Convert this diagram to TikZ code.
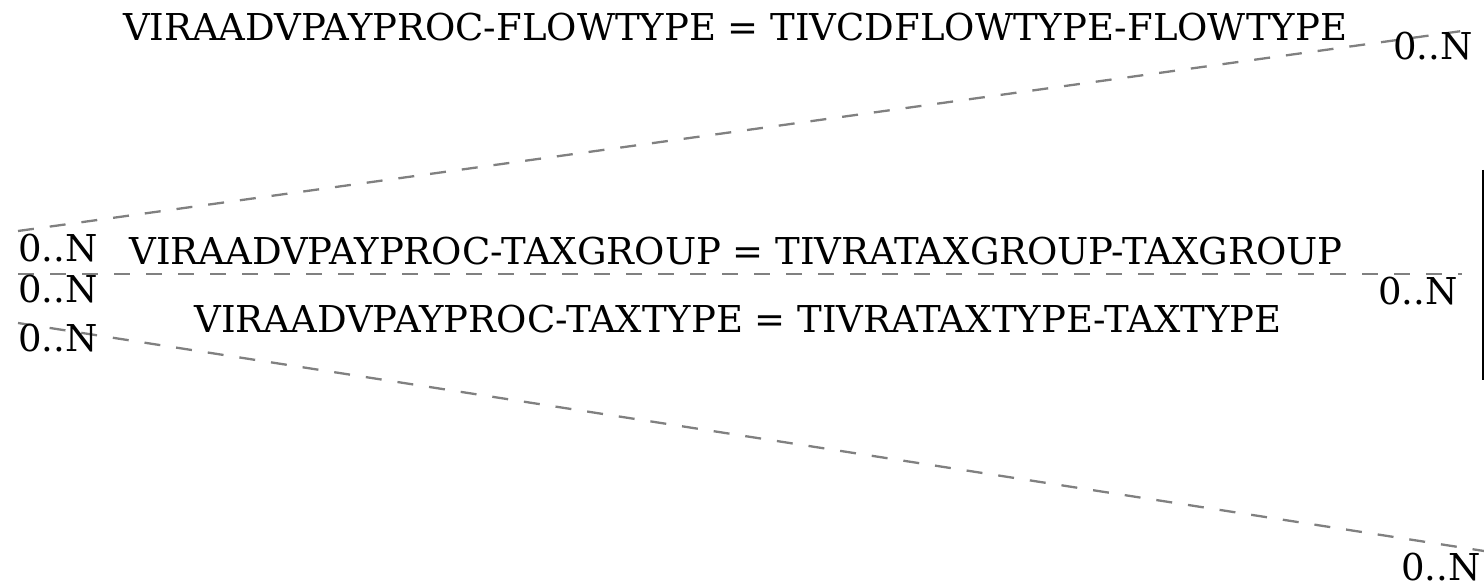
\documentclass[tikz,border=0pt]{standalone}
\usepackage{fontspec}
\setmainfont{DejaVu Serif}
\begin{document}
\begin{tikzpicture}[x=1pt,y=-1pt,
  lbl/.style={inner sep=0pt,font=\fontsize{37}{41}\selectfont},
  rel/.style={draw={rgb,255:red,128;green,128;blue,128},line width=2.3pt,dash pattern=on 16pt off 16pt},
  bar/.style={draw=black,line width=2pt}]
\useasboundingbox (0,0) rectangle (1484,585);
% end points
\coordinate (a1) at (18,231);
\coordinate (b1) at (1462,31);
\coordinate (a2) at (18,274);
\coordinate (b2) at (1462,274);
\coordinate (a3) at (18,323);
\coordinate (b3) at (1484,551);
\coordinate (t) at (1483,170);
\coordinate (u) at (1483,380);
% connectors
\draw[rel] (a1) -- (b1);
\draw[rel] (a2) -- (b2);
\draw[rel] (a3) -- (b3);
\draw[bar] (t) -- (u);
% labels
\node[lbl,anchor=base] (l1) at (735,41) {VIRAADVPAYPROC-FLOWTYPE = TIVCDFLOWTYPE-FLOWTYPE};
\node[lbl,anchor=base] (l2) at (736,265) {VIRAADVPAYPROC-TAXGROUP = TIVRATAXGROUP-TAXGROUP};
\node[lbl,anchor=base] (l3) at (738,333) {VIRAADVPAYPROC-TAXTYPE = TIVRATAXTYPE-TAXTYPE};
\node[lbl,anchor=base west] (m1) at (18,262) {0..N};
\node[lbl,anchor=base west] (m2) at (18,303) {0..N};
\node[lbl,anchor=base west] (m3) at (18,352) {0..N};
\node[lbl,anchor=base east] (n1) at (1473,60) {0..N};
\node[lbl,anchor=base east] (n2) at (1458,305) {0..N};
\node[lbl,anchor=base east] (n3) at (1481,580) {0..N};
\end{tikzpicture}
\end{document}
